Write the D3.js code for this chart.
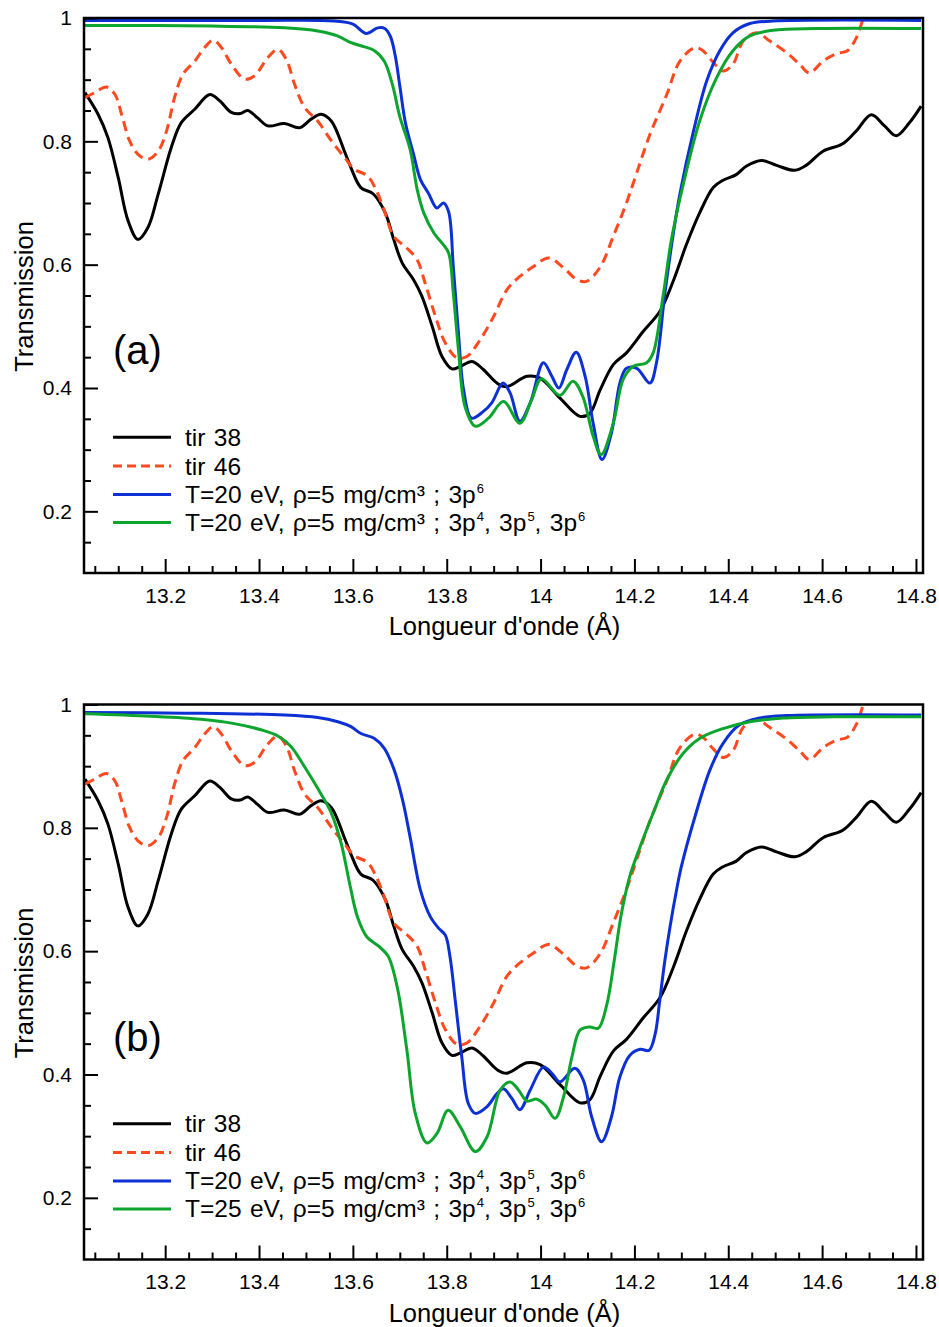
<!DOCTYPE html>
<html><head><meta charset="utf-8">
<script src="https://cdn.jsdelivr.net/npm/d3@7"></script>
<style>body{margin:0;background:#fff} svg text{font-family:"Liberation Sans",Arial,Helvetica,sans-serif;fill:#000}</style>
</head><body>
<svg id="chart" width="939" height="1327"></svg>
<script>
// ---- data: [wavelength (Å), transmission] ----
const tir38 = [[13.029,0.879],[13.057,0.844],[13.078,0.806],[13.100,0.741],[13.121,0.671],[13.142,0.641],[13.163,0.660],[13.185,0.714],[13.213,0.790],[13.234,0.830],[13.263,0.852],[13.295,0.876],[13.316,0.866],[13.341,0.847],[13.360,0.845],[13.376,0.850],[13.397,0.838],[13.419,0.825],[13.454,0.829],[13.486,0.822],[13.511,0.836],[13.532,0.844],[13.554,0.833],[13.582,0.784],[13.596,0.757],[13.617,0.725],[13.643,0.715],[13.669,0.684],[13.687,0.641],[13.705,0.603],[13.729,0.576],[13.747,0.549],[13.769,0.500],[13.790,0.451],[13.811,0.431],[13.829,0.435],[13.854,0.443],[13.878,0.430],[13.907,0.408],[13.928,0.402],[13.971,0.419],[13.999,0.416],[14.041,0.384],[14.084,0.354],[14.105,0.359],[14.127,0.397],[14.155,0.438],[14.183,0.457],[14.219,0.492],[14.254,0.524],[14.283,0.574],[14.311,0.633],[14.339,0.684],[14.368,0.725],[14.389,0.737],[14.417,0.746],[14.439,0.760],[14.471,0.769],[14.503,0.761],[14.542,0.753],[14.566,0.761],[14.602,0.784],[14.644,0.796],[14.673,0.817],[14.705,0.843],[14.733,0.825],[14.758,0.809],[14.786,0.830],[14.811,0.857]];

const tir46 = [[13.029,0.871],[13.050,0.879],[13.075,0.888],[13.093,0.876],[13.107,0.844],[13.124,0.801],[13.142,0.779],[13.163,0.771],[13.185,0.784],[13.203,0.817],[13.220,0.871],[13.238,0.909],[13.263,0.930],[13.284,0.952],[13.302,0.964],[13.320,0.952],[13.341,0.925],[13.369,0.901],[13.390,0.906],[13.419,0.936],[13.440,0.949],[13.458,0.933],[13.476,0.892],[13.497,0.855],[13.525,0.833],[13.554,0.801],[13.582,0.774],[13.603,0.755],[13.631,0.744],[13.649,0.722],[13.666,0.690],[13.687,0.646],[13.715,0.627],[13.737,0.608],[13.754,0.570],[13.776,0.516],[13.797,0.473],[13.822,0.449],[13.843,0.451],[13.871,0.478],[13.900,0.516],[13.928,0.559],[13.956,0.581],[13.985,0.597],[14.017,0.611],[14.049,0.595],[14.077,0.576],[14.098,0.573],[14.127,0.596],[14.155,0.646],[14.183,0.700],[14.205,0.749],[14.233,0.811],[14.269,0.876],[14.297,0.930],[14.329,0.952],[14.346,0.947],[14.368,0.928],[14.389,0.914],[14.410,0.925],[14.432,0.963],[14.460,0.976],[14.488,0.963],[14.524,0.944],[14.552,0.925],[14.573,0.911],[14.602,0.930],[14.630,0.942],[14.654,0.947],[14.673,0.968],[14.687,0.998],[14.700,1.030]];

const calcA_T20_3p6 = [[13.029,0.996],[13.400,0.996],[13.560,0.995],[13.600,0.990],[13.628,0.975],[13.653,0.984],[13.668,0.983],[13.680,0.970],[13.690,0.940],[13.700,0.890],[13.712,0.830],[13.729,0.780],[13.744,0.738],[13.761,0.716],[13.779,0.692],[13.793,0.700],[13.804,0.686],[13.814,0.597],[13.825,0.489],[13.836,0.397],[13.853,0.351],[13.878,0.362],[13.896,0.376],[13.920,0.408],[13.935,0.392],[13.956,0.346],[13.978,0.376],[14.006,0.441],[14.024,0.419],[14.039,0.400],[14.056,0.430],[14.076,0.458],[14.095,0.419],[14.112,0.343],[14.131,0.284],[14.151,0.327],[14.169,0.408],[14.183,0.432],[14.205,0.432],[14.233,0.408],[14.247,0.441],[14.265,0.554],[14.283,0.651],[14.297,0.715],[14.326,0.817],[14.354,0.898],[14.382,0.947],[14.410,0.976],[14.446,0.991],[14.495,0.995],[14.811,0.996]];

const calcA_T20_mix = [[13.029,0.988],[13.300,0.987],[13.454,0.984],[13.525,0.979],[13.567,0.971],[13.596,0.960],[13.617,0.955],[13.646,0.947],[13.667,0.930],[13.685,0.890],[13.700,0.840],[13.722,0.787],[13.737,0.722],[13.751,0.684],[13.773,0.651],[13.790,0.635],[13.804,0.619],[13.814,0.554],[13.825,0.462],[13.839,0.370],[13.861,0.338],[13.889,0.351],[13.921,0.378],[13.956,0.343],[13.981,0.381],[14.002,0.415],[14.041,0.388],[14.069,0.411],[14.090,0.386],[14.112,0.322],[14.129,0.292],[14.155,0.343],[14.176,0.414],[14.197,0.435],[14.226,0.441],[14.240,0.457],[14.261,0.549],[14.279,0.641],[14.304,0.730],[14.339,0.833],[14.375,0.903],[14.410,0.947],[14.446,0.971],[14.495,0.980],[14.588,0.983],[14.811,0.983]];

const calcB_T20_mix = [[13.029,0.987],[13.241,0.986],[13.454,0.983],[13.525,0.979],[13.568,0.972],[13.596,0.964],[13.617,0.953],[13.646,0.945],[13.667,0.929],[13.688,0.894],[13.706,0.845],[13.722,0.785],[13.744,0.699],[13.765,0.656],[13.783,0.637],[13.797,0.626],[13.807,0.591],[13.818,0.521],[13.832,0.429],[13.846,0.353],[13.861,0.337],[13.886,0.348],[13.907,0.369],[13.921,0.377],[13.939,0.361],[13.956,0.343],[13.978,0.375],[14.006,0.412],[14.024,0.402],[14.041,0.388],[14.073,0.410],[14.091,0.391],[14.109,0.331],[14.130,0.291],[14.151,0.331],[14.169,0.396],[14.190,0.431],[14.212,0.441],[14.231,0.439],[14.244,0.465],[14.254,0.520],[14.264,0.580],[14.276,0.640],[14.290,0.700],[14.300,0.737],[14.329,0.818],[14.361,0.894],[14.389,0.937],[14.424,0.967],[14.467,0.978],[14.524,0.982],[14.811,0.983]];

const calcB_T25_mix = [[13.029,0.985],[13.170,0.981],[13.277,0.976],[13.347,0.969],[13.404,0.959],[13.440,0.949],[13.468,0.932],[13.497,0.899],[13.525,0.864],[13.554,0.824],[13.575,0.775],[13.593,0.710],[13.610,0.655],[13.630,0.623],[13.655,0.608],[13.675,0.592],[13.695,0.540],[13.715,0.440],[13.733,0.337],[13.758,0.289],[13.779,0.304],[13.803,0.342],[13.829,0.315],[13.861,0.275],[13.886,0.299],[13.914,0.375],[13.935,0.388],[13.953,0.375],[13.971,0.357],[13.992,0.360],[14.010,0.350],[14.031,0.329],[14.049,0.364],[14.067,0.429],[14.084,0.472],[14.105,0.477],[14.123,0.475],[14.141,0.513],[14.157,0.585],[14.172,0.660],[14.190,0.721],[14.212,0.769],[14.240,0.824],[14.269,0.878],[14.304,0.921],[14.339,0.945],[14.389,0.961],[14.446,0.972],[14.517,0.978],[14.623,0.980],[14.811,0.980]];

const xMajorTicks = [13.2,13.4,13.6,13.8,14,14.2,14.4,14.6,14.8];
const xMinorTicks = [13.05,13.1,13.15,13.25,13.3,13.35,13.45,13.5,13.55,13.65,13.7,13.75,13.85,13.9,13.95,14.05,14.1,14.15,14.25,14.3,14.35,14.45,14.5,14.55,14.65,14.7,14.75];
const yMajorTicks = [0.2,0.4,0.6,0.8,1];
const yMinorTicks = [0.15,0.25,0.3,0.35,0.45,0.5,0.55,0.65,0.7,0.75,0.85,0.9,0.95];

const legendA = ["tir 38","tir 46","T=20 eV, ρ=5 mg/cm³ ; 3p^6","T=20 eV, ρ=5 mg/cm³ ; 3p^4, 3p^5, 3p^6"];
const legendB = ["tir 38","tir 46","T=20 eV, ρ=5 mg/cm³ ; 3p^4, 3p^5, 3p^6","T=25 eV, ρ=5 mg/cm³ ; 3p^4, 3p^5, 3p^6"];

const xTitle = "Longueur d'onde (Å)";
const yTitle = "Transmission";

// ---- styles ----
const C_BLACK="#000000", C_RED="#ff4a1f", C_BLUE="#0c30d4", C_GREEN="#0da52e";

const svg = d3.select("#chart");
const X0=84, X1=923;
const xDomain=[13.027,14.815], yDomain=[0.1,1];

function drawPanel(top,bottom,series,labels,tag,id){
  const x=d3.scaleLinear().domain(xDomain).range([X0,X1]);
  const y=d3.scaleLinear().domain(yDomain).range([bottom,top]);
  const g=svg.append("g");
  g.append("clipPath").attr("id","clip"+id).append("rect")
    .attr("x",X0).attr("y",top).attr("width",X1-X0).attr("height",bottom-top);
  const line=d3.line().x(d=>x(d[0])).y(d=>y(d[1])).curve(d3.curveCatmullRom.alpha(0.5));
  const plot=g.append("g").attr("clip-path",`url(#clip${id})`);
  series.forEach(s=>{
    plot.append("path").datum(s.data).attr("d",line).attr("fill","none")
      .attr("stroke",s.color).attr("stroke-width",3).attr("stroke-linejoin","round")
      .attr("stroke-dasharray",s.dash||null);
  });
  // axes
  const fmt=d=>String(+d.toFixed(1));
  const ax=g.append("g").attr("transform",`translate(0,${bottom})`)
    .call(d3.axisBottom(x).tickValues(xMajorTicks).tickSize(-14).tickSizeOuter(0).tickPadding(15).tickFormat(fmt));
  g.append("g").attr("transform",`translate(0,${bottom})`)
    .call(d3.axisBottom(x).tickValues(xMinorTicks).tickSize(-7).tickSizeOuter(0).tickFormat(""));
  const ay=g.append("g").attr("transform",`translate(${X0},0)`)
    .call(d3.axisLeft(y).tickValues(yMajorTicks).tickSize(-14).tickSizeOuter(0).tickPadding(12).tickFormat(fmt));
  g.append("g").attr("transform",`translate(${X0},0)`)
    .call(d3.axisLeft(y).tickValues(yMinorTicks).tickSize(-7).tickSizeOuter(0).tickFormat(""));
  g.selectAll(".tick line").attr("stroke","#000").attr("stroke-width",2);
  g.selectAll(".domain").remove();
  [ax,ay].forEach(a=>a.selectAll("text").attr("font-size",21).attr("font-family",null));
  // frame
  g.append("rect").attr("x",X0).attr("y",top).attr("width",X1-X0).attr("height",bottom-top)
    .attr("fill","none").attr("stroke","#000").attr("stroke-width",2.5);
  // titles
  g.append("text").attr("x",(X0+X1)/2+1).attr("y",bottom+62).attr("text-anchor","middle")
    .attr("font-size",25.5).text(xTitle);
  g.append("text").attr("transform",`translate(33,${(top+bottom)/2+1}) rotate(-90)`)
    .attr("text-anchor","middle").attr("font-size",25.5).text(yTitle);
  g.append("text").attr("x",113).attr("y",y(0.46)+13).attr("font-size",40).text(tag);
  // legend
  const rowY=[y(0.32),y(0.2735),y(0.2275),y(0.182)];
  series.forEach((s,i)=>{
    g.append("line").attr("x1",113).attr("x2",171).attr("y1",rowY[i]).attr("y2",rowY[i])
      .attr("stroke",s.color).attr("stroke-width",3).attr("stroke-dasharray",s.dash?"9,5":null);
    const t=g.append("text").attr("x",185).attr("y",rowY[i]+8.5).attr("font-size",24.5)
      .attr("word-spacing",1.6);
    const parts=labels[i].split(/\^(\d)/);
    let pending=0;
    parts.forEach((p,k)=>{
      if(!p) return;
      if(k%2===0){
        const ts=t.append("tspan").text(p);
        if(pending){ ts.attr("dy",pending); pending=0; }
      } else {
        t.append("tspan").attr("font-size",13).attr("dy",-10).attr("dx",1).text(p);
        pending=10;
      }
    });
  });
}

drawPanel(18,573,[
  {data:tir38,color:C_BLACK},
  {data:tir46,color:C_RED,dash:"10,6"},
  {data:calcA_T20_3p6,color:C_BLUE},
  {data:calcA_T20_mix,color:C_GREEN}
],legendA,"(a)","a");

drawPanel(704.5,1259.5,[
  {data:tir38,color:C_BLACK},
  {data:tir46,color:C_RED,dash:"10,6"},
  {data:calcB_T20_mix,color:C_BLUE},
  {data:calcB_T25_mix,color:C_GREEN}
],legendB,"(b)","b");
</script>
</body></html>
